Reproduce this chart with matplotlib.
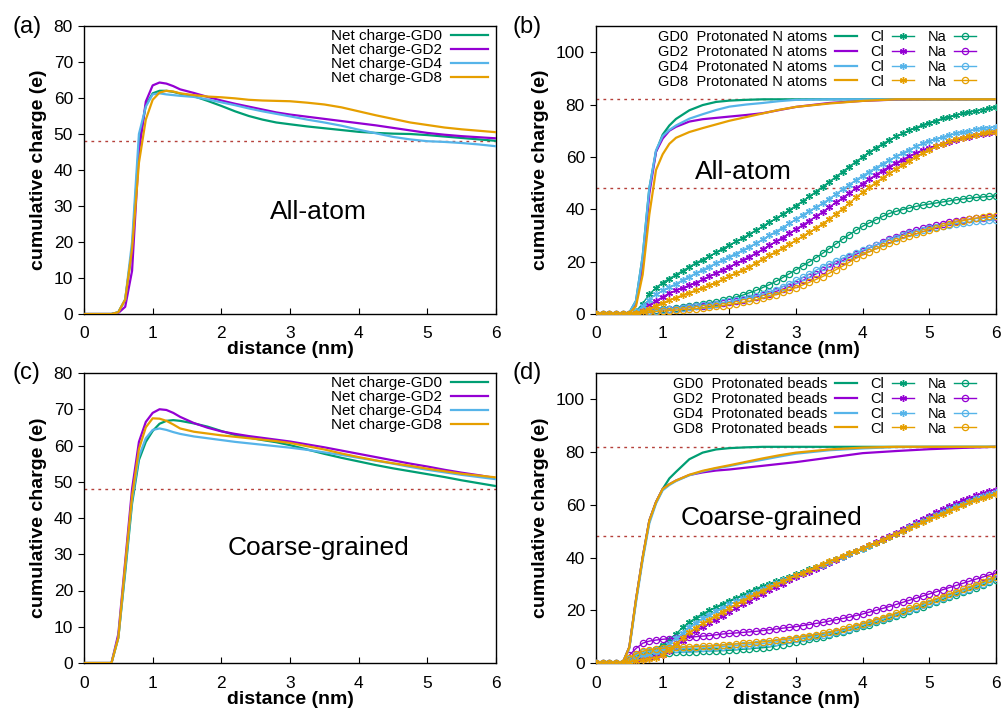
import numpy as np
import matplotlib
matplotlib.use('Agg')
import matplotlib.pyplot as plt

plt.rcParams['font.family'] = ['Liberation Sans', 'DejaVu Sans']

colors = ['#009e73', '#9400d3', '#56b4e9', '#e69f00']
gd_names = ['GD0', 'GD2', 'GD4', 'GD8']

# net charge, panels (a) and (c)
x_net = [0, 0.1, 0.2, 0.3, 0.4, 0.5, 0.6, 0.7, 0.8, 0.9, 1.0, 1.1, 1.2, 1.3, 1.4,
         1.6, 1.8, 2.0, 2.2, 2.4, 2.6, 2.8,
         3.0, 3.25, 3.5, 3.75, 4.0, 4.25, 4.5, 4.75, 5.0, 5.25, 5.5, 5.75, 6.0]

net_aa_gd0 = [0, 0, 0, 0, 0, 0.5, 4, 18, 47, 58, 61.3, 62, 62, 61.7, 61.2,
              60.5, 59.2, 57.8, 56.3, 55, 54, 53.2,
              52.7, 52.1, 51.6, 51.1, 50.6, 50.3, 50.1, 50, 49.7, 49.3, 48.9, 48.5, 48.1]
net_aa_gd2 = [0, 0, 0, 0, 0, 0.3, 2, 12, 45, 59, 63.5, 64.3, 64, 63.3, 62.4,
              61.4, 60.3, 59.3, 58.4, 57.6, 56.8, 56,
              55.4, 54.8, 54.2, 53.6, 53, 52.4, 51.7, 51, 50.3, 49.8, 49.4, 49.1, 48.8]
net_aa_gd4 = [0, 0, 0, 0, 0, 0.5, 4, 20, 50, 57.6, 61, 61.3, 61, 60.8, 60.6,
              60.3, 59.6, 58.8, 58, 57.1, 56.3, 55.6,
              54.9, 54, 53.2, 52.3, 51.2, 50.2, 49.2, 48.5, 48, 47.8, 47.5, 47.1, 46.6]
net_aa_gd8 = [0, 0, 0, 0, 0, 0.5, 4, 18, 42, 54, 59.5, 61.5, 62, 61.8, 61.3,
              60.8, 60.4, 60.2, 59.9, 59.5, 59.3, 59.2,
              59.1, 58.7, 58.2, 57.4, 56.3, 55.2, 54.2, 53.2, 52.5, 51.8, 51.3, 50.9, 50.5]

net_cg_gd0 = [0, 0, 0, 0, 0, 7, 25, 44, 56, 61, 64, 66, 66.8, 67, 66.8,
              66.1, 65.2, 64, 62.9, 62.2, 61.5, 60.9,
              60.1, 58.9, 57.7, 56.6, 55.6, 54.6, 53.7, 52.9, 52.1, 51.3, 50.4, 49.6, 48.8]
net_cg_gd2 = [0, 0, 0, 0, 0, 8, 28, 48, 61, 66.5, 69, 70, 69.8, 69, 67.9,
              66.2, 64.9, 63.9, 63.2, 62.6, 62.1, 61.6,
              61.1, 60.3, 59.5, 58.6, 57.7, 56.8, 55.9, 55, 54.2, 53.3, 52.5, 51.8, 51]
net_cg_gd4 = [0, 0, 0, 0, 0, 7, 26, 45, 57, 62, 64.3, 64.7, 64.3, 63.7, 63.2,
              62.5, 62, 61.5, 61, 60.6, 60.2, 59.8,
              59.4, 58.8, 58.1, 57.4, 56.6, 55.8, 55, 54.1, 53.3, 52.6, 51.9, 51.3, 50.7]
net_cg_gd8 = [0, 0, 0, 0, 0, 7, 27, 46, 59, 65, 67.5, 67.4, 66.8, 65.8, 64.7,
              63.8, 63.3, 62.8, 62.4, 62, 61.6, 61.2,
              60.7, 59.8, 58.9, 57.8, 56.8, 55.9, 55.1, 54.4, 53.6, 52.9, 52.2, 51.7, 51.2]

# protonated N atoms / beads, panels (b) and (d)
x_prot = [0, 0.4, 0.5, 0.6, 0.7, 0.8, 0.9, 1.0, 1.1, 1.2,
          1.4, 1.6, 1.8, 2.0, 2.25, 2.5, 2.75, 3.0, 3.5, 4.0, 4.5, 5.0, 5.5, 6.0]

prot_aa_gd0 = [0, 0, 0.5, 5, 22, 48, 62, 68.5, 72, 74.5,
               77.8, 79.8, 81, 81.5, 81.8, 82, 82, 82, 82, 82, 82, 82, 82, 82]
prot_aa_gd2 = [0, 0, 0.3, 4, 18, 46, 62, 67, 70, 71.5,
               73.5, 74.4, 74.9, 75.4, 76, 76.7, 77.9, 79.1, 80.6, 81.4, 81.9, 82, 82, 82]
prot_aa_gd4 = [0, 0, 0.5, 5, 22, 48, 62.5, 68, 70.3, 72,
               74.6, 76.3, 77.9, 79.2, 80, 80.6, 81.3, 81.8, 82, 82, 82, 82, 82, 82]
prot_aa_gd8 = [0, 0, 0.3, 3, 15, 38, 55, 61, 65, 67.3,
               69.5, 71, 72.4, 73.8, 75.2, 76.6, 78, 79.1, 80.4, 81.4, 82, 82, 82, 82]

prot_cg_gd0 = [0, 0, 6, 24, 40, 54, 61, 66, 70, 72.5,
               77.3, 79.8, 81, 81.5, 81.8, 82, 82, 82, 82, 82, 82, 82, 82, 82]
prot_cg_gd2 = [0, 0, 6, 24, 40, 54, 61, 66, 67.8, 69.2,
               71.3, 72.3, 73, 73.4, 74.1, 74.8, 75.5, 76.2, 77.9, 79.6, 80.4, 81.1, 81.6, 82]
prot_cg_gd4 = [0, 0, 5.5, 23, 39, 53, 60.5, 65.5, 67.5, 69,
               71.2, 72.7, 73.8, 74.7, 76, 77.1, 78.3, 79.4, 80.7, 81.4, 81.9, 82, 82, 82]
prot_cg_gd8 = [0, 0, 6, 24, 40, 54, 61, 66, 67.8, 69.2,
               71.4, 72.9, 74, 75, 76.3, 77.6, 78.8, 79.8, 81, 81.7, 82, 82, 82, 82]

# ions, sampled every 0.1 nm
x_ion = np.linspace(0, 6, 61)

cl_aa_gd0 = [0, 0, 0, 0, 0, 0, 1, 4, 7.5, 10,
             12, 13.5, 15, 16.5, 18, 19.5, 20.8, 22, 23.5, 25,
             26.3, 27.7, 29, 30.5, 32, 33.5, 35, 36.5, 38.1, 39.7,
             41.4, 43.1, 44.9, 46.7, 48.6, 50.5, 52.4, 54.4, 56.3, 58.2,
             60, 61.8, 63.5, 65, 66.5, 67.8, 69, 70.2, 71.2, 72.2,
             73.1, 73.9, 74.7, 75.4, 76, 76.6, 77.1, 77.6, 78.1, 78.6,
             79]
cl_aa_gd2 = [0, 0, 0, 0, 0, 0, 0.5, 1.5, 3.5, 5,
             6.5, 8, 9, 10, 11, 12, 13.2, 14.4, 15.6, 16.8,
             18, 19.3, 20.6, 21.9, 23.2, 24.7, 26.2, 27.7, 29.2, 30.8,
             32.4, 34, 35.6, 37.3, 39, 40.8, 42.6, 44.4, 46.2, 48,
             49.8, 51.5, 53.2, 54.8, 56.3, 57.7, 59, 60.3, 61.5, 62.6,
             63.5, 64.3, 65.1, 65.8, 66.5, 67.1, 67.7, 68.2, 68.7, 69.2,
             69.6]
cl_aa_gd4 = [0, 0, 0, 0, 0, 0, 1, 3, 5.5, 7.5,
             9, 10.3, 11.5, 13, 14.3, 15.6, 16.9, 18.1, 19.4, 20.6,
             21.9, 23.1, 24.4, 25.7, 27, 28.5, 30, 31.5, 33, 34.6,
             36.2, 37.8, 39.4, 40.8, 42.3, 44, 45.8, 47.6, 49.4, 51.2,
             52.8, 54.4, 55.9, 57.4, 58.8, 60.2, 61.5, 62.8, 64, 65.2,
             66.1, 66.9, 67.6, 68.3, 69, 69.5, 70, 70.5, 70.9, 71.2,
             71.5]
cl_aa_gd8 = [0, 0, 0, 0, 0, 0, 0.3, 1, 2, 3.2,
             4.3, 5.3, 6.3, 7.2, 8.2, 9.1, 10, 11, 12, 13.2,
             14.5, 15.6, 16.8, 18, 19.5, 21, 22.4, 23.8, 25.2, 26.7,
             28.2, 29.7, 31.2, 32.8, 34.5, 36.3, 38.2, 40.2, 42.3, 44.5,
             46.5, 48.4, 50.2, 52, 53.7, 55.4, 57, 58.6, 60, 61.5,
             62.8, 64, 65, 65.9, 66.7, 67.4, 68, 68.5, 69, 69.4,
             69.7]

na_aa_gd0 = [0, 0, 0, 0, 0, 0, 0, 0.5, 1, 1.4,
             1.8, 2.1, 2.4, 2.7, 3, 3.3, 3.7, 4.1, 4.6, 5.2,
             5.8, 6.5, 7.2, 8.1, 9, 10.1, 11.2, 12.5, 13.9, 15.4,
             16.9, 18.4, 19.9, 21.5, 23.2, 25, 26.8, 28.6, 30.3, 32,
             33.5, 34.8, 36, 37.3, 38.4, 39.2, 39.9, 40.5, 41.1, 41.6,
             42, 42.4, 42.8, 43.2, 43.6, 43.9, 44.2, 44.5, 44.7, 44.9,
             45.1]
na_aa_gd2 = [0, 0, 0, 0, 0, 0, 0, 0.5, 1, 1.3,
             1.6, 1.8, 2, 2.3, 2.6, 2.9, 3.2, 3.5, 3.8, 4.2,
             4.6, 5, 5.5, 6, 6.5, 7.1, 7.8, 8.6, 9.5, 10.5,
             11.6, 12.8, 14, 15.3, 16.7, 18, 19.2, 20.4, 21.6, 22.8,
             24, 25.2, 26.3, 27.4, 28.5, 29.5, 30.4, 31.3, 32.1, 32.8,
             33.4, 34, 34.5, 35, 35.4, 35.8, 36.2, 36.5, 36.8, 37,
             37.2]
na_aa_gd4 = [0, 0, 0, 0, 0, 0, 0, 0.5, 1, 1.3,
             1.6, 1.9, 2.1, 2.4, 2.7, 3, 3.3, 3.6, 4, 4.4,
             4.8, 5.3, 5.8, 6.3, 6.9, 7.6, 8.4, 9.3, 10.4, 11.6,
             12.8, 14, 15.3, 16.7, 18.1, 19.2, 20.3, 21.3, 22.3, 23.3,
             24.3, 25.3, 26.3, 27.3, 28.3, 29.2, 30, 30.8, 31.5, 32.1,
             32.7, 33.2, 33.7, 34.1, 34.5, 34.8, 35.1, 35.4, 35.6, 35.8,
             36]
na_aa_gd8 = [0, 0, 0, 0, 0, 0, 0, 0.3, 0.6, 0.9,
             1.1, 1.3, 1.5, 1.7, 1.9, 2.1, 2.3, 2.6, 2.9, 3.2,
             3.6, 4, 4.4, 4.9, 5.4, 6, 6.7, 7.4, 8.3, 9.2,
             10.1, 11.1, 12.1, 13.2, 14.3, 15.6, 16.9, 18.3, 19.8, 21.3,
             22.6, 23.8, 24.9, 26, 27, 28, 28.9, 29.8, 30.6, 31.4,
             32.2, 33, 33.7, 34.4, 35.1, 35.6, 36.1, 36.6, 37, 37.3,
             37.5]

cl_cg_gd0 = [0, 0, 0, 0, 0, 1, 2.5, 3.5, 4.5, 5.5,
             7, 9, 11, 13.5, 15.5, 17.2, 18.7, 20, 21.2, 22.5,
             23.6, 24.7, 25.8, 27, 28.2, 29.2, 30.1, 31, 31.9, 32.8,
             33.7, 34.6, 35.5, 36.4, 37.3, 38.3, 39.3, 40.3, 41.3, 42.3,
             43.4, 44.5, 45.6, 46.7, 47.9, 49.1, 50.3, 51.6, 52.9, 54.2,
             55.4, 56.6, 57.7, 58.8, 59.9, 60.9, 61.8, 62.7, 63.5, 64.2,
             64.9]
cl_cg_gd2 = [0, 0, 0, 0, 0, 0.5, 1, 1.5, 2, 2.5,
             3, 4.5, 6.5, 8.5, 10.5, 12.2, 13.7, 15.1, 16.5, 18,
             19.4, 20.8, 22.2, 23.6, 25, 26.3, 27.6, 28.9, 30.1, 31.3,
             32.5, 33.6, 34.7, 35.8, 36.9, 38, 39.1, 40.2, 41.3, 42.4,
             43.5, 44.6, 45.8, 47, 48.2, 49.4, 50.7, 52, 53.3, 54.6,
             55.9, 57.1, 58.3, 59.5, 60.6, 61.7, 62.7, 63.6, 64.4, 65.1,
             65.8]
cl_cg_gd4 = [0, 0, 0, 0, 0, 0.8, 2, 3, 3.5, 4.2,
             5.5, 7.3, 9.3, 11.5, 13.5, 15.3, 16.9, 18.3, 19.7, 21,
             22.2, 23.4, 24.6, 25.8, 27, 28.2, 29.3, 30.3, 31.3, 32.3,
             33.3, 34.3, 35.3, 36.3, 37.3, 38.3, 39.3, 40.3, 41.3, 42.3,
             43.3, 44.4, 45.5, 46.6, 47.8, 49, 50.2, 51.4, 52.6, 53.8,
             55, 56.2, 57.3, 58.4, 59.5, 60.5, 61.5, 62.4, 63.2, 64,
             64.7]
cl_cg_gd8 = [0, 0, 0, 0, 0, 0.4, 0.8, 1.2, 1.6, 2,
             3, 5, 7.2, 9.5, 11.6, 13.4, 15, 16.5, 18, 19.5,
             20.9, 22.3, 23.7, 25, 26.3, 27.5, 28.7, 29.9, 31, 32.1,
             33.2, 34.3, 35.4, 36.5, 37.6, 38.6, 39.6, 40.6, 41.6, 42.6,
             43.6, 44.6, 45.7, 46.8, 47.9, 49, 50.1, 51.2, 52.3, 53.4,
             54.5, 55.6, 56.7, 57.8, 58.9, 59.9, 60.9, 61.8, 62.7, 63.5,
             64.2]

na_cg_gd0 = [0, 0, 0, 0, 0, 1, 2, 2.8, 3.2, 3.5,
             3.7, 3.9, 4, 4.1, 4.2, 4.3, 4.4, 4.5, 4.6, 4.7,
             4.8, 5, 5.2, 5.4, 5.6, 5.8, 6.1, 6.5, 7, 7.5,
             8, 8.5, 9, 9.5, 10, 10.6, 11.2, 11.8, 12.5, 13.2,
             13.9, 14.6, 15.4, 16.2, 17, 17.8, 18.7, 19.6, 20.5, 21.4,
             22.3, 23.2, 24.1, 25, 25.9, 26.8, 27.7, 28.6, 29.6, 30.6,
             31.6]
na_cg_gd2 = [0, 0, 0, 0, 0, 3, 5.5, 7.5, 8.3, 8.7,
             9, 9.2, 9.4, 9.6, 9.8, 10, 10.2, 10.4, 10.7, 11,
             11.2, 11.4, 11.6, 11.8, 12, 12.3, 12.6, 12.9, 13.2, 13.5,
             13.8, 14.2, 14.6, 15, 15.4, 15.9, 16.4, 16.9, 17.4, 18,
             18.6, 19.3, 20, 20.7, 21.4, 22.2, 23, 23.8, 24.6, 25.4,
             26.2, 27, 27.8, 28.6, 29.4, 30.2, 31, 31.8, 32.6, 33.4,
             34.2]
na_cg_gd4 = [0, 0, 0, 0, 0, 1.5, 3, 4, 4.5, 4.8,
             5, 5.2, 5.3, 5.4, 5.5, 5.6, 5.7, 5.8, 6, 6.2,
             6.4, 6.6, 6.8, 7, 7.2, 7.4, 7.7, 8, 8.3, 8.6,
             9, 9.4, 9.8, 10.2, 10.6, 11.1, 11.7, 12.3, 12.9, 13.6,
             14.3, 15, 15.8, 16.6, 17.4, 18.3, 19.2, 20.1, 21, 21.9,
             22.8, 23.7, 24.6, 25.5, 26.4, 27.3, 28.2, 29.1, 30.1, 31.1,
             32.1]
na_cg_gd8 = [0, 0, 0, 0, 0, 2, 3.5, 4.5, 5, 5.4,
             5.6, 5.8, 5.9, 6, 6.1, 6.2, 6.3, 6.4, 6.6, 6.8,
             7, 7.2, 7.4, 7.6, 7.8, 8, 8.3, 8.6, 8.9, 9.2,
             9.6, 10, 10.4, 10.8, 11.2, 11.7, 12.3, 12.9, 13.5, 14.2,
             14.9, 15.6, 16.4, 17.2, 18, 18.9, 19.8, 20.7, 21.6, 22.5,
             23.4, 24.3, 25.2, 26.1, 27, 27.9, 28.8, 29.7, 30.7, 31.7,
             32.7]

net_aa = [net_aa_gd0, net_aa_gd2, net_aa_gd4, net_aa_gd8]
net_cg = [net_cg_gd0, net_cg_gd2, net_cg_gd4, net_cg_gd8]
prot_aa = [prot_aa_gd0, prot_aa_gd2, prot_aa_gd4, prot_aa_gd8]
prot_cg = [prot_cg_gd0, prot_cg_gd2, prot_cg_gd4, prot_cg_gd8]
cl_aa = [cl_aa_gd0, cl_aa_gd2, cl_aa_gd4, cl_aa_gd8]
na_aa = [na_aa_gd0, na_aa_gd2, na_aa_gd4, na_aa_gd8]
cl_cg = [cl_cg_gd0, cl_cg_gd2, cl_cg_gd4, cl_cg_gd8]
na_cg = [na_cg_gd0, na_cg_gd2, na_cg_gd4, na_cg_gd8]

W, H = 1002, 715
fig = plt.figure(figsize=(W / 100, H / 100), dpi=100)

ax_a = fig.add_axes([84 / W, 1 - 314 / H, 412 / W, 288 / H])
ax_b = fig.add_axes([596 / W, 1 - 314 / H, 400 / W, 288 / H])
ax_c = fig.add_axes([84 / W, 1 - 663 / H, 412 / W, 290 / H])
ax_d = fig.add_axes([596 / W, 1 - 663 / H, 400 / W, 290 / H])

ref_color = '#b5403a'
asterisk = (6, 2, 0)


def style_axes(ax, ymax, ystep):
    ax.set_xlim(0, 6)
    ax.set_ylim(0, ymax)
    ax.set_xticks(range(0, 7))
    ax.set_yticks(range(0, ymax + 1, ystep))
    ax.tick_params(axis='x', direction='in', length=4, labelsize=12.5, pad=9)
    ax.tick_params(axis='y', direction='out', length=4, labelsize=12.5, pad=4)
    ax.set_xlabel('distance (nm)', fontsize=14, fontweight='bold', labelpad=0)
    ax.set_ylabel('cumulative charge (e)', fontsize=14, fontweight='bold', labelpad=5)
    for s in ax.spines.values():
        s.set_linewidth(1.0)


def net_panel(ax, series, label_text, tx, ty):
    ax.axhline(48, color=ref_color, lw=1.0, ls=(0, (2, 3)), zorder=1)
    for ys, c, name in zip(series, colors, gd_names):
        ax.plot(x_net, ys, color=c, lw=1.6, label=f'Net charge-{name}', zorder=3)
    style_axes(ax, 80, 10)
    ax.legend(loc='upper right', bbox_to_anchor=((488 - 84) / 412, 0.99),
              frameon=False, markerfirst=False, fontsize=11, handlelength=2.4,
              handletextpad=0.6, labelspacing=0.0, borderpad=0, borderaxespad=0)
    ax.text(tx, ty, label_text, transform=ax.transAxes, fontsize=19,
            ha='center', va='center')


def ion_panel(ax, prot, cl, na, prot_name, label_text, tx, ty):
    ax.axhline(48, color=ref_color, lw=1.0, ls=(0, (2, 3)), zorder=1)
    ax.axhline(82, color=ref_color, lw=1.0, ls=(0, (2, 3)), zorder=1)
    h_prot, h_cl, h_na = [], [], []
    for i, c in enumerate(colors):
        h, = ax.plot(x_prot, prot[i], color=c, lw=1.6, zorder=3)
        h_prot.append(h)
        h, = ax.plot(x_ion, cl[i], color=c, lw=1.0, marker=asterisk, ms=5,
                     mew=1.0, zorder=3)
        h_cl.append(h)
        h, = ax.plot(x_ion, na[i], color=c, lw=1.0, marker='o', ms=4.5,
                     mfc='none', mew=0.9, zorder=3)
        h_na.append(h)
    style_axes(ax, 110, 20)
    ax.set_yticks(range(0, 101, 20))
    labels = [f'{n}  {prot_name}' for n in gd_names] + ['Cl'] * 4 + ['Na'] * 4
    ax.legend(h_prot + h_cl + h_na, labels, ncol=3, loc='upper right',
              bbox_to_anchor=((976 - 596) / 400, 0.985), frameon=False,
              markerfirst=False, fontsize=10.5, handlelength=1.5,
              handletextpad=0.55, columnspacing=0.9, labelspacing=0.05,
              borderpad=0, borderaxespad=0)
    ax.text(tx, ty, label_text, transform=ax.transAxes, fontsize=19,
            ha='center', va='center')


net_panel(ax_a, net_aa, 'All-atom', 0.568, 0.354)
net_panel(ax_c, net_cg, 'Coarse-grained', 0.568, 0.397)
ion_panel(ax_b, prot_aa, cl_aa, na_aa, 'Protonated N atoms', 'All-atom', 0.368, 0.493)
ion_panel(ax_d, prot_cg, cl_cg, na_cg, 'Protonated beads', 'Coarse-grained', 0.44, 0.5)

for lab, px, py in [('(a)', 12, 27), ('(b)', 513, 27), ('(c)', 12, 373), ('(d)', 513, 373)]:
    fig.text(px / W, 1 - py / H, lab, fontsize=17, ha='left', va='center')

fig.savefig('out.png', dpi=100)
